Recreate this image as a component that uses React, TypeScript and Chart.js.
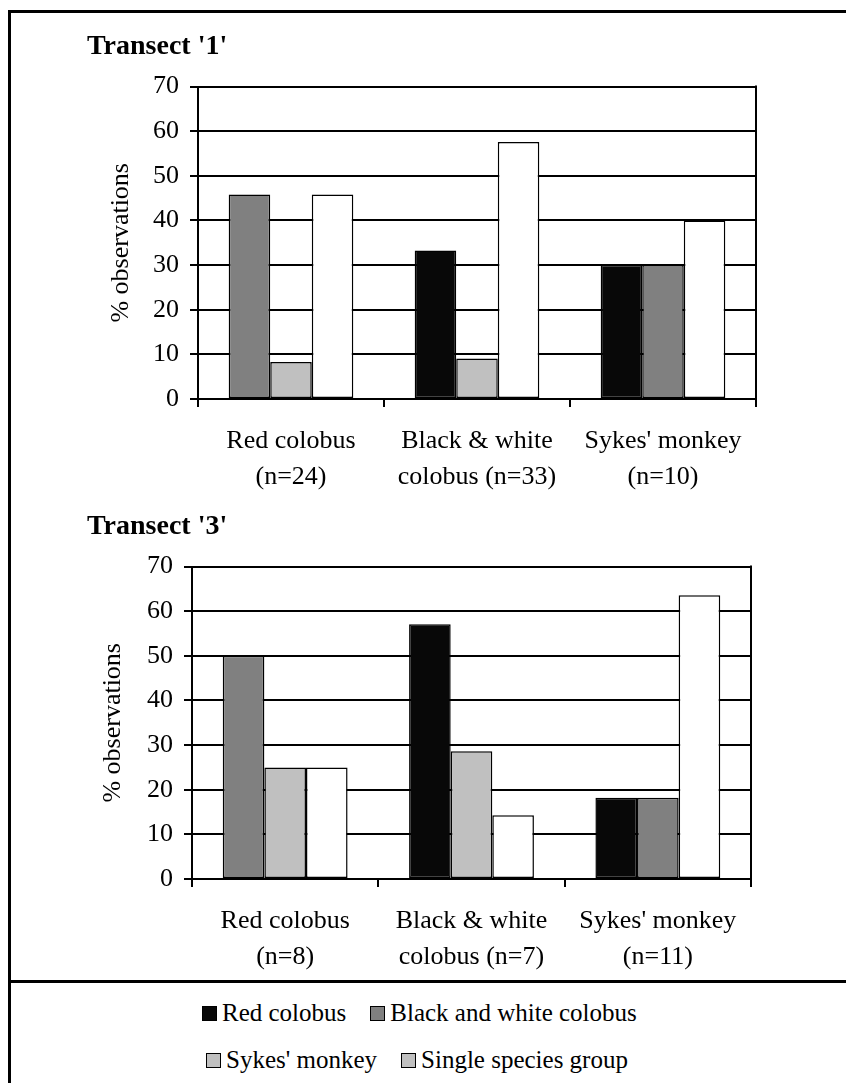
import React, { useEffect, useRef } from "react";
import { Chart, registerables } from "chart.js";

Chart.register(...registerables);

const FONT = "'Liberation Serif', 'Times New Roman', serif";

// ---- data ----
const seriesNames = ["Red colobus", "Black and white colobus", "Sykes' monkey", "Single species group"];
const seriesColors = ["#080808", "#808080", "#C0C0C0", "#FFFFFF"];
const legendSwatchColors = ["#080808", "#808080", "#C0C0C0", "#C0C0C0"];

const transect1Title = "Transect '1'";
const transect1Labels = [["Red colobus", "(n=24)"], ["Black & white", "colobus (n=33)"], ["Sykes' monkey", "(n=10)"]];
const t1RedColobus = [null, 33.3, 30];
const t1BlackWhite = [45.8, null, 30];
const t1Sykes = [8.3, 9.1, null];
const t1Single = [45.8, 57.6, 40];

const transect3Title = "Transect '3'";
const transect3Labels = [["Red colobus", "(n=8)"], ["Black & white", "colobus (n=7)"], ["Sykes' monkey", "(n=11)"]];
const t3RedColobus = [null, 57.1, 18.2];
const t3BlackWhite = [50, null, 18.2];
const t3Sykes = [25, 28.6, null];
const t3Single = [25, 14.3, 63.6];

const yTicks = [0, 10, 20, 30, 40, 50, 60, 70];
const yAxisTitle = "% observations";

const rightBorder = {
  id: "rightBorder",
  beforeDatasetsDraw(chart: any) {
    const { ctx, chartArea } = chart;
    ctx.save();
    ctx.strokeStyle = "#000";
    ctx.lineWidth = 2;
    ctx.beginPath();
    ctx.moveTo(chartArea.right, chartArea.top - 1);
    ctx.lineTo(chartArea.right, chartArea.bottom);
    ctx.stroke();
    ctx.restore();
  },
};

function buildConfig(title: string, labels: any[], series: (number | null)[][], yWidth: number, yTitlePad: number, padRight: number) {
  return {
    type: "bar",
    data: {
      labels,
      datasets: series.map((d, i) => ({
        label: seriesNames[i],
        data: d,
        backgroundColor: seriesColors[i],
        borderColor: "#000",
        borderWidth: 1.5,
        borderSkipped: false,
        skipNull: true,
        categoryPercentage: 0.67,
        barPercentage: 1.0,
      })),
    },
    options: {
      responsive: false,
      animation: false,
      layout: { padding: { left: 27, right: padRight, top: 0, bottom: 0 } },
      plugins: {
        legend: { display: false },
        tooltip: { enabled: false },
        title: {
          display: true,
          text: title,
          align: "start",
          color: "#000",
          font: { family: FONT, size: 28, weight: "bold", lineHeight: 1.2 },
          padding: { top: 16, bottom: 23 },
        },
      },
      scales: {
        x: {
          offset: true,
          grid: { offset: true, drawOnChartArea: false, drawTicks: true, tickLength: 8, color: "#000", lineWidth: 2 },
          border: { display: true, color: "#000", width: 2 },
          ticks: { color: "#000", font: { family: FONT, size: 26, lineHeight: 1.4 }, padding: 16, maxRotation: 0, autoSkip: false },
          afterFit: (s: any) => { s.height = 95; },
        },
        y: {
          min: 0,
          max: 70,
          afterBuildTicks: (s: any) => { s.ticks = yTicks.map((v) => ({ value: v })); },
          grid: { drawOnChartArea: true, drawTicks: true, tickLength: 8, color: "#000", lineWidth: 2 },
          border: { display: true, color: "#000", width: 2 },
          ticks: { color: "#000", font: { family: FONT, size: 26 }, padding: 11 },
          title: {
            display: true,
            text: yAxisTitle,
            color: "#000",
            font: { family: FONT, size: 26, lineHeight: 1.2 },
            padding: { top: yTitlePad, bottom: 0 },
          },
          afterFit: (s: any) => { s.width = yWidth; },
        },
      },
    },
    plugins: [rightBorder],
  };
}

function BarPanel(props: { config: any; left: number; top: number; width: number; height: number }) {
  const ref = useRef<HTMLCanvasElement | null>(null);
  useEffect(() => {
    if (!ref.current) return;
    const chart = new Chart(ref.current, props.config);
    return () => chart.destroy();
  }, []);
  return (
    <canvas
      ref={ref}
      width={props.width}
      height={props.height}
      style={{ position: "absolute", left: props.left, top: props.top, width: props.width, height: props.height }}
    />
  );
}

function LegendItem(props: { name: string; color: string }) {
  return (
    <span style={{ display: "inline-flex", alignItems: "center", marginRight: 24 }}>
      <span
        style={{
          display: "inline-block",
          width: 13,
          height: 13,
          background: props.color,
          border: "1.5px solid #000",
          marginRight: 5,
        }}
      />
      <span>{props.name}</span>
    </span>
  );
}

export default function App() {
  const cfg1 = buildConfig(transect1Title, transect1Labels, [t1RedColobus, t1BlackWhite, t1Sykes, t1Single], 111, 19, 4);
  const cfg3 = buildConfig(transect3Title, transect3Labels, [t3RedColobus, t3BlackWhite, t3Sykes, t3Single], 105, 11, 9);
  const rowStyle: React.CSSProperties = {
    position: "absolute",
    display: "flex",
    alignItems: "center",
    height: 36,
    fontFamily: FONT,
    fontSize: 25,
    color: "#000",
    whiteSpace: "nowrap",
  };
  return (
    <div style={{ position: "relative", width: 846, height: 1075, overflow: "hidden", background: "#fff" }}>
      <div
        style={{
          position: "absolute",
          left: 0,
          top: 2,
          width: 1000,
          height: 1200,
          borderLeft: "3px solid #000",
          borderTop: "3px solid #000",
        }}
      />
      <BarPanel config={cfg1} left={52} top={6} width={700} height={480} />
      <BarPanel config={cfg3} left={52} top={486} width={700} height={480} />
      <div style={{ position: "absolute", left: 0, top: 972, width: 846, height: 3, background: "#000" }} />
      <div style={{ ...rowStyle, left: 194, top: 987 }}>
        <LegendItem name={seriesNames[0]} color={legendSwatchColors[0]} />
        <LegendItem name={seriesNames[1]} color={legendSwatchColors[1]} />
      </div>
      <div style={{ ...rowStyle, left: 198, top: 1034 }}>
        <LegendItem name={seriesNames[2]} color={legendSwatchColors[2]} />
        <LegendItem name={seriesNames[3]} color={legendSwatchColors[3]} />
      </div>
    </div>
  );
}
